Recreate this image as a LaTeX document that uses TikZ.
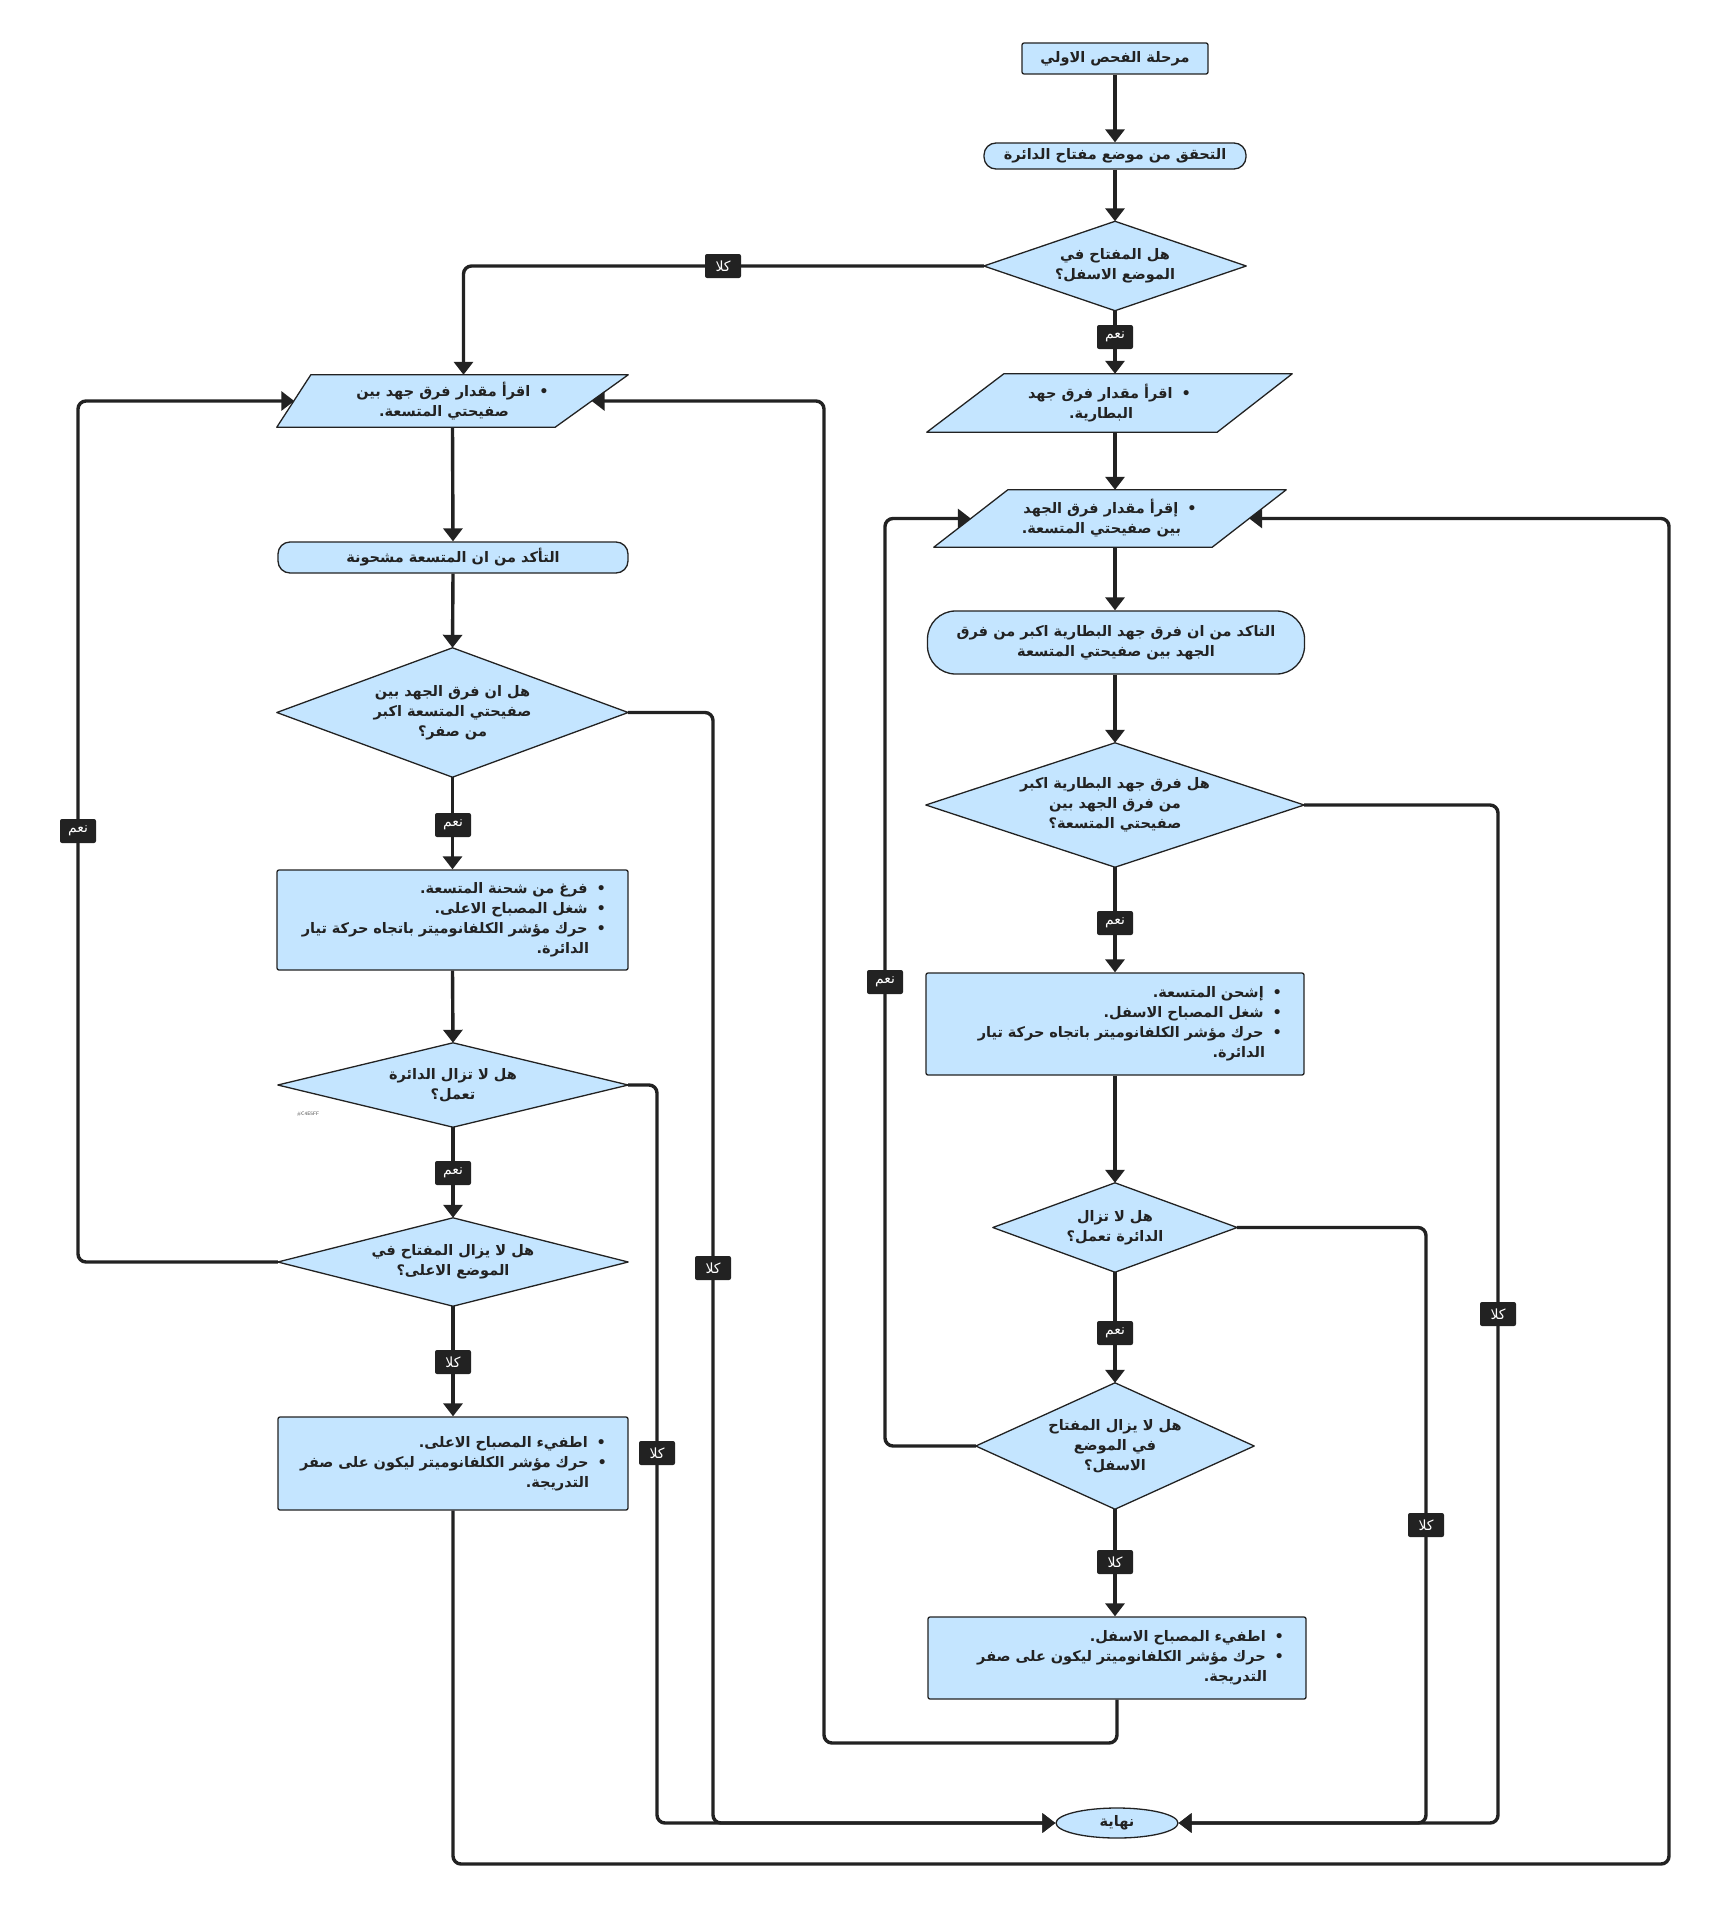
\documentclass[tikz,border=0pt]{standalone}
\usepackage{fontspec}
\usetikzlibrary{arrows.meta,shapes.geometric}
\TeXXeTstate=1
\newfontfamily\arabicfont[Script=Arabic]{DejaVu Sans}
\definecolor{boxfill}{HTML}{C4E5FF}
\definecolor{ink}{HTML}{222222}
\newcommand{\arl}[1]{\mbox{\beginR#1\endR}}
\newcommand{\bul}{•\hspace{9pt}}
\newcommand{\ind}{\hspace*{17pt}}
\pgfdeclarelayer{bg}
\pgfsetlayers{bg,main}
\begin{document}
\begin{tikzpicture}[x=1pt,y=-1pt,
  base/.style={font=\arabicfont\bfseries\fontsize{14.5}{20}\selectfont, text=ink, align=center, inner sep=0pt},
  boxed/.style={base, draw=ink, line width=1.3pt, fill=boxfill},
  startbox/.style={boxed, rounded corners=2pt},
  pill/.style={boxed, rounded corners=12pt},
  procbox/.style={boxed, rounded corners=2pt, align=right, inner xsep=22pt, inner ysep=0pt},
  shapetext/.style={base},
  endnode/.style={boxed, ellipse},
  conn/.style={draw=ink, line width=3.4pt, rounded corners=8pt, -{Triangle[length=13pt,width=19pt]}},
  shp/.style={draw=ink, line width=1.3pt, fill=boxfill, line join=round},
  lbl/.style={fill=ink, text=white, rounded corners=2pt, font=\arabicfont\fontsize{14}{16}\selectfont, minimum height=24pt, minimum width=36pt, inner xsep=6pt, inner ysep=0pt}
]
\useasboundingbox (0,0) rectangle (1729,1908);

% ---------- right column ----------
\node[startbox, minimum width=186pt, minimum height=31pt] (start) at (1115,58.5) {\arl{مرحلة الفحص الاولي}};
\node[pill, minimum width=262pt, minimum height=26pt] (check) at (1115,156) {\arl{التحقق من موضع مفتاح الدائرة}};
\node[shapetext, minimum width=262pt, minimum height=89pt] (d1) at (1115,266) {\arl{هل المفتاح في}\\\arl{الموضع الاسفل؟}};
\node[shapetext, minimum width=365pt, minimum height=58pt] (r1) at (1109.5,403) {\arl{\bul اقرأ مقدار فرق جهد}\\\arl{\ind البطارية.}};
\node[shapetext, minimum width=352pt, minimum height=57pt] (r2) at (1110,518.5) {\arl{\bul إقرأ مقدار فرق الجهد}\\\arl{\ind بين صفيحتي المتسعة.}};
\node[boxed, rounded corners=28pt, minimum width=377pt, minimum height=63pt] (r3) at (1116,642.5) {\arl{التاكد من ان فرق جهد البطارية اكبر من فرق}\\\arl{الجهد بين صفيحتي المتسعة}};
\node[shapetext, minimum width=378pt, minimum height=124pt] (rd2) at (1115,805) {\arl{هل فرق جهد البطارية اكبر}\\\arl{من فرق الجهد بين}\\\arl{صفيحتي المتسعة؟}};
\node[procbox, text width=334pt, minimum height=102pt] (rp1) at (1115,1024) {\arl{\bul إشحن المتسعة.}\\\arl{\bul شغل المصباح الاسفل.}\\\arl{\bul حرك مؤشر الكلفانوميتر باتجاه حركة تيار}\\\arl{\ind الدائرة.}};
\node[shapetext, minimum width=244pt, minimum height=89pt] (rd3) at (1115,1227.5) {\arl{هل لا تزال}\\\arl{الدائرة تعمل؟}};
\node[shapetext, minimum width=278pt, minimum height=126pt] (rd4) at (1115,1446) {\arl{هل لا يزال المفتاح}\\\arl{في الموضع}\\\arl{الاسفل؟}};
\node[procbox, text width=334pt, minimum height=82pt] (rp2) at (1117,1658) {\arl{\bul اطفيء المصباح الاسفل.}\\\arl{\bul حرك مؤشر الكلفانوميتر ليكون على صفر}\\\arl{\ind التدريجة.}};
\node[endnode, minimum width=122pt, minimum height=30pt] (end) at (1117,1823) {\arl{نهاية}};

% ---------- left column ----------
\node[shapetext, minimum width=351pt, minimum height=52pt] (L1) at (452.5,401) {\arl{\bul اقرأ مقدار فرق جهد بين}\\\arl{\ind صفيحتي المتسعة.}};
\node[pill, minimum width=350pt, minimum height=31pt] (L2) at (453,557.5) {\arl{التأكد من ان المتسعة مشحونة}};
\node[shapetext, minimum width=351pt, minimum height=129pt] (Ld2) at (452.5,712.5) {\arl{هل ان فرق الجهد بين}\\\arl{صفيحتي المتسعة اكبر}\\\arl{من صفر؟}};
\node[procbox, text width=307pt, minimum height=100pt] (Lp1) at (452.5,920) {\arl{\bul فرغ من شحنة المتسعة.}\\\arl{\bul شغل المصباح الاعلى.}\\\arl{\bul حرك مؤشر الكلفانوميتر باتجاه حركة تيار}\\\arl{\ind الدائرة.}};
\node[shapetext, minimum width=350pt, minimum height=84pt] (Ld3) at (453,1085) {\arl{هل لا تزال الدائرة}\\\arl{تعمل؟}};
\node[shapetext, minimum width=350pt, minimum height=88pt] (Ld4) at (453,1262) {\arl{هل لا يزال المفتاح في}\\\arl{الموضع الاعلى؟}};
\node[procbox, text width=306pt, minimum height=93pt] (Lp2) at (453,1463.5) {\arl{\bul اطفيء المصباح الاعلى.}\\\arl{\bul حرك مؤشر الكلفانوميتر ليكون على صفر}\\\arl{\ind التدريجة.}};
\node[font=\sffamily\fontsize{5}{6}\selectfont, text=black!70, inner sep=0pt] (hex) at (308,1114) {\#C4E5FF};

% ---------- shapes drawn behind text ----------
\begin{pgfonlayer}{bg}
  \path[shp] (d1.north) -- (d1.east) -- (d1.south) -- (d1.west) -- cycle;
  \path[shp] (rd2.north) -- (rd2.east) -- (rd2.south) -- (rd2.west) -- cycle;
  \path[shp] (rd3.north) -- (rd3.east) -- (rd3.south) -- (rd3.west) -- cycle;
  \path[shp] (rd4.north) -- (rd4.east) -- (rd4.south) -- (rd4.west) -- cycle;
  \path[shp] (Ld2.north) -- (Ld2.east) -- (Ld2.south) -- (Ld2.west) -- cycle;
  \path[shp] (Ld3.north) -- (Ld3.east) -- (Ld3.south) -- (Ld3.west) -- cycle;
  \path[shp] (Ld4.north) -- (Ld4.east) -- (Ld4.south) -- (Ld4.west) -- cycle;
  \path[shp] ([xshift=77pt]r1.north west) -- (r1.north east) -- ([xshift=-75pt]r1.south east) -- (r1.south west) -- cycle;
  \path[shp] ([xshift=74pt]r2.north west) -- (r2.north east) -- ([xshift=-74pt]r2.south east) -- (r2.south west) -- cycle;
  \path[shp] ([xshift=34pt]L1.north west) -- (L1.north east) -- ([xshift=-73pt]L1.south east) -- (L1.south west) -- cycle;
\end{pgfonlayer}

% ---------- bend columns / rows ----------
\coordinate (xA) at (1498,0);
\coordinate (xB) at (1426,0);
\coordinate (xC) at (885,0);
\coordinate (xD) at (824,0);
\coordinate (xE) at (713,0);
\coordinate (xF) at (657,0);
\coordinate (xG) at (78,0);
\coordinate (xH) at (1669,0);
\coordinate (yA) at (0,1743);
\coordinate (yB) at (0,1864);

% ---------- connectors ----------
\draw[conn] (start) -- (check);
\draw[conn] (check) -- (d1);
\draw[conn] (d1.south) -- (d1.south |- r1.north);
\draw[conn] (d1.west) -| ([xshift=11pt]L1.north);
\draw[conn] (r1.south -| d1.south) -- (d1.south |- r2.north);
\draw[conn] (r2.south -| d1.south) -- (d1.south |- r3.north);
\draw[conn] (r3.south -| d1.south) -- (rd2.north);
\draw[conn] (rd2.south) -- (rp1.north);
\draw[conn] (rd2.east) -| (xA |- end.east) -- (end.east);
\draw[conn] (rp1.south) -- (rd3.north);
\draw[conn] (rd3.east) -| (xB |- end.east) -- (end.east);
\draw[conn] (rd3.south) -- (rd4.north);
\draw[conn] (rd4.south) -- (rd4.south |- rp2.north);
\draw[conn] (rd4.west) -| (xC |- r2.west) -- ([xshift=37pt]r2.west);
\draw[conn] (rp2.south) |- (xD |- yA) |- ([xshift=-36.5pt]L1.east);

\draw[conn] (L1.south) -- (L2.north);
\draw[conn] (L2.south) -- (Ld2.north);
\draw[conn] (Ld2.south) -- (Lp1.north);
\draw[conn] (Ld2.east) -| (xE |- end.west) -- (end.west);
\draw[conn] (Lp1.south) -- (Ld3.north);
\draw[conn] (Ld3.east) -| (xF |- end.west) -- (end.west);
\draw[conn] (Ld3.south) -- (Ld4.north);
\draw[conn] (Ld4.west) -| (xG |- L1.west) -- ([xshift=17.5pt]L1.west);
\draw[conn] (Ld4.south) -- (Lp2.north);
\draw[conn] (Lp2.south) |- (xH |- yB) |- ([xshift=-37pt]r2.east);

% ---------- edge labels ----------
\node[lbl] (lb1) at (723,266) {\arl{كلا}};
\node[lbl] (lb2) at (1115,337) {\arl{نعم}};
\node[lbl] (lb3) at (1115,923) {\arl{نعم}};
\node[lbl] (lb4) at (1498,1314) {\arl{كلا}};
\node[lbl] (lb5) at (1426,1525) {\arl{كلا}};
\node[lbl] (lb6) at (1115,1333) {\arl{نعم}};
\node[lbl] (lb7) at (1115,1562) {\arl{كلا}};
\node[lbl] (lb8) at (885,982) {\arl{نعم}};
\node[lbl] (lb9) at (453,825) {\arl{نعم}};
\node[lbl] (lb10) at (713,1268) {\arl{كلا}};
\node[lbl] (lb11) at (657,1453) {\arl{كلا}};
\node[lbl] (lb12) at (453,1173) {\arl{نعم}};
\node[lbl] (lb13) at (78,831) {\arl{نعم}};
\node[lbl] (lb14) at (453,1362) {\arl{كلا}};
\end{tikzpicture}
\end{document}
